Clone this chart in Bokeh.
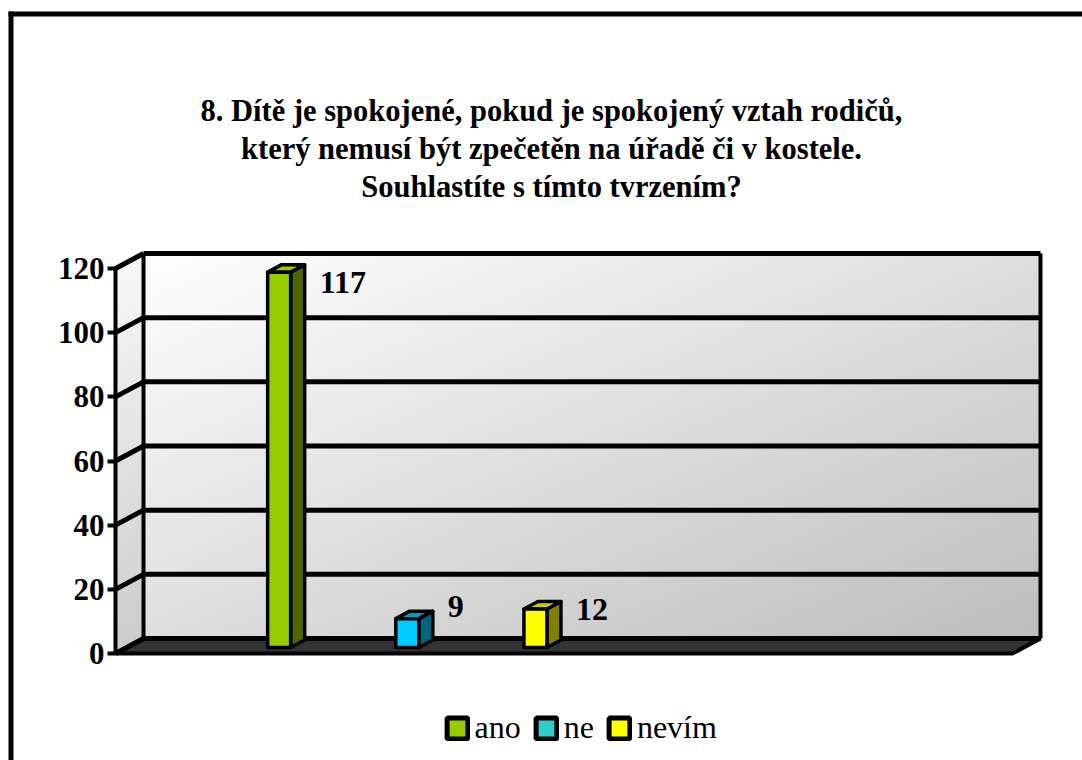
import numpy as np
from bokeh.plotting import figure
from bokeh.models import Range1d, LinearAxis, FixedTicker, Legend, LegendItem
from bokeh.embed import file_html
from bokeh.resources import INLINE
from bokeh.core.properties import value

# ---------------- data ----------------
TITLE_LINES = ["8. Dítě je spokojené, pokud je spokojený vztah rodičů,",
               "který nemusí být zpečetěn na úřadě či v kostele.",
               "Souhlastíte s tímto tvrzením?"]
CATEGORIES = ["ano", "ne", "nevím"]
VALUES = [117, 9, 12]
Y_TICKS = [0, 20, 40, 60, 80, 100, 120]

# ---------------- styles ----------------
FRONT_COLORS = ["#99CC00", "#00CCFF", "#FFFF00"]
SIDE_COLORS = ["#4D6600", "#006680", "#808000"]
TOP_COLORS = ["#99CC00", "#0099CC", "#CCCC00"]
LEGEND_COLORS = ["#99CC00", "#33CCCC", "#FFFF00"]
LABEL_DY = [10, -12, 0]          # px nudges of data labels
FONT = value("Liberation Serif")

W, H = 1082, 760
Y_MAX = 120
FX0, FX1 = 115, 1012             # front plane left/right (px)
FY0, FY120 = 653, 268            # px of value 0 / 120 on the front plane
DX, DY = 28, 15                  # depth offset of the back wall (px)
PPU = (FY0 - FY120) / Y_MAX
DYV = DY / PPU
SLOT = (FX1 - FX0) / 7
BAR_W = 23
F1, F2 = 0.4, 0.9                # bar depth (fraction)


def vy(cy):
    return (FY0 - cy) / PPU


p = figure(width=W, height=H, output_backend="svg", toolbar_location=None,
           x_range=Range1d(0, W), y_range=Range1d(vy(H), vy(0)),
           x_axis_type=None, y_axis_type=None, min_border=0,
           outline_line_color=None, background_fill_color="white",
           border_fill_color="white")

# ---- back wall gradient ----
nx, ny = 200, 100
u = np.linspace(0, 1, nx)[None, :]
vv = np.linspace(1, 0, ny)[:, None]
t = 0.5 * u + 0.5 * vv
g = (255 - 65 * t).astype(np.uint8)
img = np.empty((ny, nx), dtype=np.uint32)
view = img.view(dtype=np.uint8).reshape((ny, nx, 4))
view[..., 0] = g
view[..., 1] = g
view[..., 2] = g
view[..., 3] = 255
p.image_rgba(image=[img], x=FX0 + DX, y=DYV, dw=FX1 - FX0, dh=Y_MAX)

# ---- side wall bands ----
n = 40
xs, ys, cols = [], [], []
for k in range(n):
    a = k / n * Y_MAX
    b = (k + 1) / n * Y_MAX
    s = int(205 + (248 - 205) * (k + 0.5) / n)
    xs.append([FX0, FX0 + DX, FX0 + DX, FX0])
    ys.append([a, a + DYV, b + DYV, b])
    cols.append("#%02x%02x%02x" % (s, s, s))
p.patches(xs, ys, fill_color=cols, line_color=cols, line_width=1)

# ---- floor ----
p.patch([FX0, FX1, FX1 + DX, FX0 + DX], [0, 0, DYV, DYV],
        fill_color="#333333", line_color="black", line_width=4)

# ---- grid lines ----
p.segment(x0=[FX0 + DX] * len(Y_TICKS), y0=[tk + DYV for tk in Y_TICKS],
          x1=[FX1 + DX] * len(Y_TICKS), y1=[tk + DYV for tk in Y_TICKS],
          line_color="black", line_width=5)
p.segment(x0=[FX0] * len(Y_TICKS), y0=Y_TICKS,
          x1=[FX0 + DX] * len(Y_TICKS), y1=[tk + DYV for tk in Y_TICKS],
          line_color="black", line_width=5)
p.segment(x0=[FX0 + DX, FX1 + DX], y0=[DYV, DYV],
          x1=[FX0 + DX, FX1 + DX], y1=[Y_MAX + DYV, Y_MAX + DYV],
          line_color="black", line_width=4)

# ---- 3D bars ----
fxs, fys, sxs, sys_, txs, tys = [], [], [], [], [], []
lab_x, lab_y = [], []
for i, v in enumerate(VALUES):
    xl = FX0 + (i + 1.1) * SLOT + F1 * DX
    xr = xl + BAR_W
    d = (F2 - F1)
    b0 = F1 * DYV
    b1 = F2 * DYV
    fxs.append([xl, xr, xr, xl]); fys.append([b0, b0, v + b0, v + b0])
    sxs.append([xr, xr + d * DX, xr + d * DX, xr]); sys_.append([b0, b1, v + b1, v + b0])
    txs.append([xl, xr, xr + d * DX, xl + d * DX]); tys.append([v + b0, v + b0, v + b1, v + b1])
    lab_x.append(xr + d * DX + 15)
    lab_y.append(v + b0 - LABEL_DY[i] / PPU)

p.patches(sxs, sys_, fill_color=SIDE_COLORS, line_color="black", line_width=3.5, line_join="round")
p.patches(txs, tys, fill_color=TOP_COLORS, line_color="black", line_width=3.5, line_join="round")
p.patches(fxs, fys, fill_color=FRONT_COLORS, line_color="black", line_width=3.5, line_join="round")

p.text(x=lab_x, y=lab_y, text=[str(v) for v in VALUES], text_font=FONT,
       text_font_style="bold", text_font_size="32px", text_baseline="middle",
       text_align="left", text_color="black")

# ---- axis ----
yaxis = LinearAxis(fixed_location=FX0, bounds=(0, Y_MAX), ticker=FixedTicker(ticks=Y_TICKS),
                   axis_line_width=4, axis_line_color="black",
                   major_tick_line_width=4, major_tick_line_color="black",
                   major_tick_out=8, major_tick_in=0,
                   minor_tick_out=0, minor_tick_in=0, minor_tick_line_color=None,
                   major_label_text_font="Liberation Serif",
                   major_label_text_font_style="bold",
                   major_label_text_font_size="31px",
                   major_label_text_color="black",
                   major_label_standoff=3)
p.add_layout(yaxis, "left")

# ---- title ----
title_base = [110, 148, 186]
p.text(x=[551] * 3, y=[vy(c) for c in title_base], text=TITLE_LINES, text_font=FONT,
       text_font_style="bold", text_font_size="30.5px", text_align="center",
       text_baseline="alphabetic", text_color="black")

# ---- frame border lines ----
p.segment(x0=[10.5, 8], y0=[vy(11), vy(13.5)], x1=[10.5, W], y1=[vy(H), vy(13.5)],
          line_color="black", line_width=5)

# ---- legend (swatch renderers sit outside the visible range) ----
items = []
for c, col in zip(CATEGORIES, LEGEND_COLORS):
    r = p.quad(left=[-50], right=[-40], top=[vy(700)], bottom=[vy(710)], fill_color=col,
               line_color="black", line_width=5)
    items.append(LegendItem(label=c, renderers=[r]))
legend = Legend(items=items, orientation="horizontal", location=(443.5, 14),
                padding=0, margin=0, spacing=12, label_standoff=5,
                glyph_width=26, glyph_height=26, border_line_color=None,
                background_fill_alpha=0, label_text_font="Liberation Serif",
                label_text_font_size="32px", label_text_color="black")
p.add_layout(legend)

open("out.html", "w").write(file_html(p, INLINE))
